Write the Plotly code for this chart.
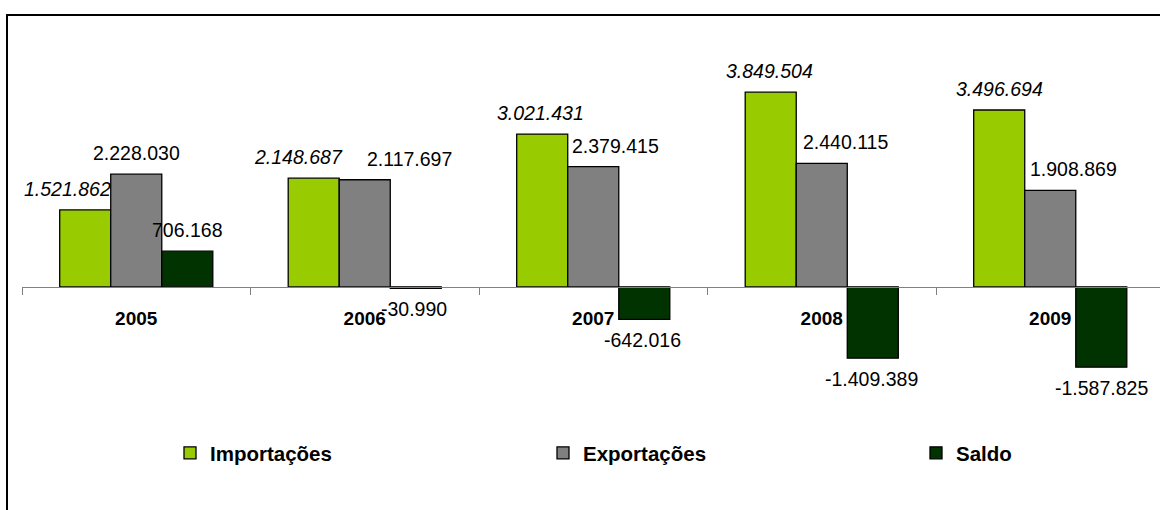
import plotly.graph_objects as go

# ---- data ----
years = ["2005", "2006", "2007", "2008", "2009"]
importacoes = [1521862, 2148687, 3021431, 3849504, 3496694]
exportacoes = [2228030, 2117697, 2379415, 2440115, 1908869]
saldo = [706168, -30990, -642016, -1409389, -1587825]
series_names = ["Importações", "Exportações", "Saldo"]

# ---- style ----
colors = ["#99CC00", "#808080", "#003300"]
label_italic = [True, False, False]
# horizontal nudges (px) of value labels, as placed in the original
label_nudge = [
    [-18, -15, -2, -1, 0],
    [0, 45, 22, 24, 23],
    [0, -2, -2, -1, 0],
]
FONT = "Liberation Sans, Arial, sans-serif"
W, H = 1160, 510
ML, MR, MT, MB = 22, 0, 34, 122
BARGAP = 0.33
YMIN, YMAX = -2000000, 5000000

plot_w = W - ML - MR
plot_h = H - MT - MB
cat_px = 228.5
xr = [-0.5, -0.5 + plot_w / cat_px]


def fmt(v):
    return f"{v:,}".replace(",", ".")


def px_to_paper_x(px):
    return (px - ML) / plot_w


def px_to_paper_y(py):
    return (H - MB - py) / plot_h


all_series = [importacoes, exportacoes, saldo]
legend_ids = ["legend", "legend2", "legend3"]
legend_marker_px = [192, 565, 938]

fig = go.Figure()
for k, (name, vals) in enumerate(zip(series_names, all_series)):
    fig.add_trace(go.Bar(
        x=years, y=vals, name=name,
        marker=dict(color=colors[k], line=dict(color="black", width=1.3)),
        legend=legend_ids[k],
        hoverinfo="skip",
    ))

annotations = []
bw = (1 - BARGAP) / 3
for k, vals in enumerate(all_series):
    for i, v in enumerate(vals):
        txt = fmt(v)
        if label_italic[k]:
            txt = f"<i>{txt}</i>"
        annotations.append(dict(
            x=i + (k - 1) * bw, y=v, xref="x", yref="y",
            text=txt, showarrow=False,
            xanchor="center", yanchor="middle",
            xshift=label_nudge[k][i], yshift=21 if v >= 0 else -21,
            font=dict(family=FONT, size=19.5, color="black"),
        ))

legends = {}
for k, lid in enumerate(legend_ids):
    legends[lid] = dict(
        x=px_to_paper_x(legend_marker_px[k] - 22), xanchor="left",
        y=px_to_paper_y(453), yanchor="middle",
        orientation="h", bgcolor="rgba(0,0,0,0)",
        font=dict(family=FONT, size=20.5, color="black", weight="bold"),
        itemclick=False, itemdoubleclick=False,
    )

fig.update_layout(
    width=W, height=H,
    margin=dict(l=ML, r=MR, t=MT, b=MB, autoexpand=False),
    paper_bgcolor="white", plot_bgcolor="white",
    barmode="group", bargap=BARGAP, bargroupgap=0,
    showlegend=True,
    annotations=annotations,
    font=dict(family=FONT, color="black"),
    xaxis=dict(
        type="category", range=xr, anchor="free",
        position=(0 - YMIN) / (YMAX - YMIN),
        showline=True, linecolor="#808080", linewidth=1,
        ticks="outside", tickson="boundaries", ticklen=7,
        tickcolor="#808080", tickwidth=1,
        showgrid=False, zeroline=False,
        tickfont=dict(family=FONT, size=19, color="black", weight="bold"),
        ticklabelstandoff=14,
    ),
    yaxis=dict(
        range=[YMIN, YMAX], visible=False, showgrid=False, zeroline=False,
    ),
    shapes=[dict(
        type="rect", xref="paper", yref="paper",
        x0=px_to_paper_x(7), x1=px_to_paper_x(1175),
        y0=px_to_paper_y(15), y1=px_to_paper_y(530),
        line=dict(color="black", width=2), fillcolor="rgba(0,0,0,0)",
        layer="above",
    )],
    **legends,
)

fig.write_html(
    "out.html",
    config={"displayModeBar": False, "staticPlot": True},
    post_script="document.body.style.margin='0';document.body.style.overflow='hidden';",
)
